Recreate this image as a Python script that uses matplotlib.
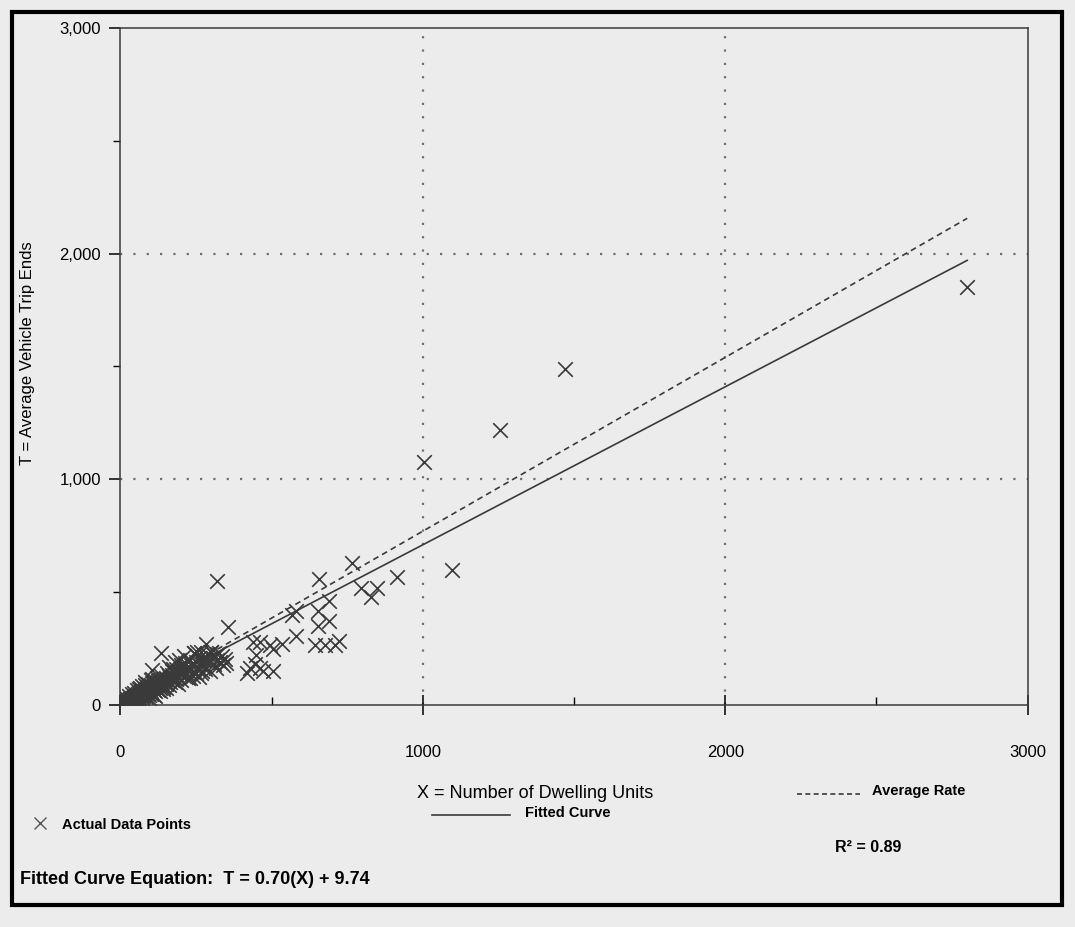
import matplotlib
matplotlib.use("Agg")
import matplotlib.pyplot as plt
from matplotlib.lines import Line2D
from matplotlib.patches import Rectangle

plt.rcParams['font.family'] = ['Liberation Sans', 'DejaVu Sans']

# punti osservati (unita abitative, viaggi medi)
x_units = [2800, 1470, 1255, 1005, 1095, 915, 767, 657, 796, 849, 827, 689, 654, 689, 654,
           582, 566, 582, 645, 676, 708, 723, 535, 503, 462, 450, 440, 494, 430, 472, 503,
           418, 446, 462, 321, 355, 135, 104,
           283, 252, 299, 274, 242, 267, 321, 211,
           160, 170, 180, 185, 195, 200, 205, 210, 215, 220, 225, 230, 235, 240, 245, 250,
           255, 260, 265, 270, 275, 280, 285, 290, 295, 300, 305, 310, 315, 320, 325, 330,
           335, 340, 345, 350,
           3, 5, 7, 9, 10, 12, 14, 15, 17, 18, 20, 22, 24, 25, 27, 28, 30, 32, 34, 35, 37,
           38, 40, 42, 44, 45, 47, 48, 50, 52, 54, 55, 57, 58, 60, 62, 64, 65, 67, 68, 70,
           72, 74, 75, 78, 80, 82, 84, 86, 88, 90, 92, 95, 98, 100, 102, 105, 108, 110, 112,
           115, 118, 120, 125, 128, 132, 135, 140, 145, 150, 155, 160, 165, 170, 175, 180,
           185, 190, 195, 200,
           60, 80, 100, 120, 140, 90, 110, 40, 60, 80, 100, 70,
           10, 15, 20, 25, 30, 35, 40, 45, 50, 55, 60, 65, 70, 75, 80, 85, 90, 95, 100, 105,
           110, 115, 120, 125, 130, 135, 140, 145, 150, 155, 160, 165, 170, 175, 180, 185,
           190, 200, 210, 220, 230, 240, 250, 260, 270, 190, 150, 130, 115, 95]
y_trips = [1850, 1490, 1220, 1075, 600, 565, 630, 560, 520, 520, 480, 460, 415, 370, 350,
           415, 400, 305, 265, 265, 265, 285, 268, 247, 277, 221, 277, 264, 162, 149, 149,
           140, 180, 162, 550, 345, 232, 155,
           268, 234, 234, 200, 230, 234, 226, 179,
           170, 150, 190, 160, 200, 175, 145, 215, 185, 160, 120, 200, 175, 145, 230, 190,
           165, 210, 140, 180, 200, 160, 225, 195, 150, 235, 210, 180, 165, 200, 230, 190,
           215, 175, 205, 185,
           2, 6, 4, 8, 5, 10, 8, 13, 10, 15, 12, 18, 14, 20, 17, 23, 19, 25, 21, 28, 24,
           31, 27, 33, 29, 36, 32, 40, 34, 42, 37, 45, 40, 48, 43, 52, 46, 55, 49, 58, 52,
           60, 55, 64, 58, 67, 62, 72, 65, 75, 68, 80, 72, 85, 76, 88, 80, 92, 84, 96,
           88, 100, 90, 105, 95, 110, 100, 115, 105, 120, 112, 128, 118, 135, 125, 142,
           132, 150, 140, 158,
           30, 45, 60, 70, 80, 50, 65, 50, 70, 90, 110, 85,
           20, 5, 30, 8, 40, 10, 15, 55, 20, 65, 25, 75, 30, 40, 100, 35, 95, 45, 50, 115,
           45, 60, 120, 65, 75, 130, 70, 85, 95, 140, 90, 100, 110, 160, 100, 115,
           125, 110, 130, 140, 120, 130, 140, 125, 150, 95, 75, 60, 40, 30]

# curva di regressione e tasso medio
x_range = [5, 2800]
pendenza = 0.70
intercetta = 9.74
tasso_medio = 0.77

fig = plt.figure(figsize=(10.75, 9.27), dpi=100)
fig.patch.set_facecolor('#ececec')
ax = fig.add_axes([0.112, 0.2395, 0.844, 0.7305])
ax.set_facecolor('#ececec')

grigio = '#3a3a3a'
ax.scatter(x_units, y_trips, marker='x', s=110, color=grigio, linewidths=1.2, zorder=3)
ax.plot(x_range, [pendenza * v + intercetta for v in x_range], color=grigio, lw=1.2, zorder=2)
ax.plot(x_range, [tasso_medio * v for v in x_range], color=grigio, lw=1.2, ls=(0, (3.5, 2.5)), zorder=2)

ax.set_xlim(0, 3000)
ax.set_ylim(0, 3000)
ax.set_xticks([0, 1000, 2000, 3000])
ax.set_xticklabels(['0', '1000', '2000', '3000'])
ax.set_yticks([0, 1000, 2000, 3000])
ax.set_yticklabels(['0', '1,000', '2,000', '3,000'])
ax.set_xticks([500, 1500, 2500], minor=True)
ax.set_yticks([500, 1500, 2500], minor=True)

ax.tick_params(axis='x', which='major', direction='inout', length=14, width=1.1, pad=22, labelsize=12)
ax.tick_params(axis='x', which='minor', direction='in', length=6, width=1)
ax.tick_params(axis='y', which='major', direction='out', length=8, width=1.1, pad=6, labelsize=12)
ax.tick_params(axis='y', which='minor', direction='out', length=5, width=1)

for s in ax.spines.values():
    s.set_color(grigio)
    s.set_linewidth(1.1)

# griglia tratteggiata solo a 1000 e 2000
for v in [1000, 2000]:
    ax.axvline(v, color='#707070', ls=(0, (1, 5)), lw=1.6, zorder=1)
    ax.axhline(v, color='#707070', ls=(0, (1, 5)), lw=1.6, zorder=1)

ax.set_ylabel("T = Average Vehicle Trip Ends", fontsize=12)
ax.yaxis.set_label_coords(-0.094, 0.52)
ax.set_xlabel("X = Number of Dwelling Units", fontsize=13)
ax.xaxis.set_label_coords(0.457, -0.118)

def fx(px):
    return px / 1075

def fy(py):
    return 1 - py / 927

# legenda manuale sotto al grafico
fig.add_artist(Line2D([fx(40)], [fy(823)], marker='x', markersize=9, color='#555555',
                      mew=1, transform=fig.transFigure))
fig.text(fx(62), fy(825), "Actual Data Points", fontsize=10.5, fontweight='bold', va='center')
fig.add_artist(Line2D([fx(432), fx(510)], [fy(815), fy(815)], color=grigio, lw=1.2,
                      transform=fig.transFigure))
fig.text(fx(525), fy(813), "Fitted Curve", fontsize=10.5, fontweight='bold', va='center')
fig.add_artist(Line2D([fx(797), fx(860)], [fy(794), fy(794)], color=grigio, lw=1.2,
                      ls=(0, (3, 2)), transform=fig.transFigure))
fig.text(fx(872), fy(791), "Average Rate", fontsize=10.5, fontweight='bold', va='center')
fig.text(fx(835), fy(848), "R² = 0.89", fontsize=11.5, fontweight='bold', va='center')
fig.text(fx(20), fy(880), "Fitted Curve Equation:  T = 0.70(X) + 9.74", fontsize=13,
         fontweight='bold', va='center')

# bordo della pagina
fig.add_artist(Rectangle((fx(12), fy(905)), fx(1062) - fx(12), fy(12) - fy(905),
                         fill=False, lw=3, edgecolor='black', transform=fig.transFigure))

fig.savefig("out.png", dpi=100, facecolor=fig.get_facecolor())
